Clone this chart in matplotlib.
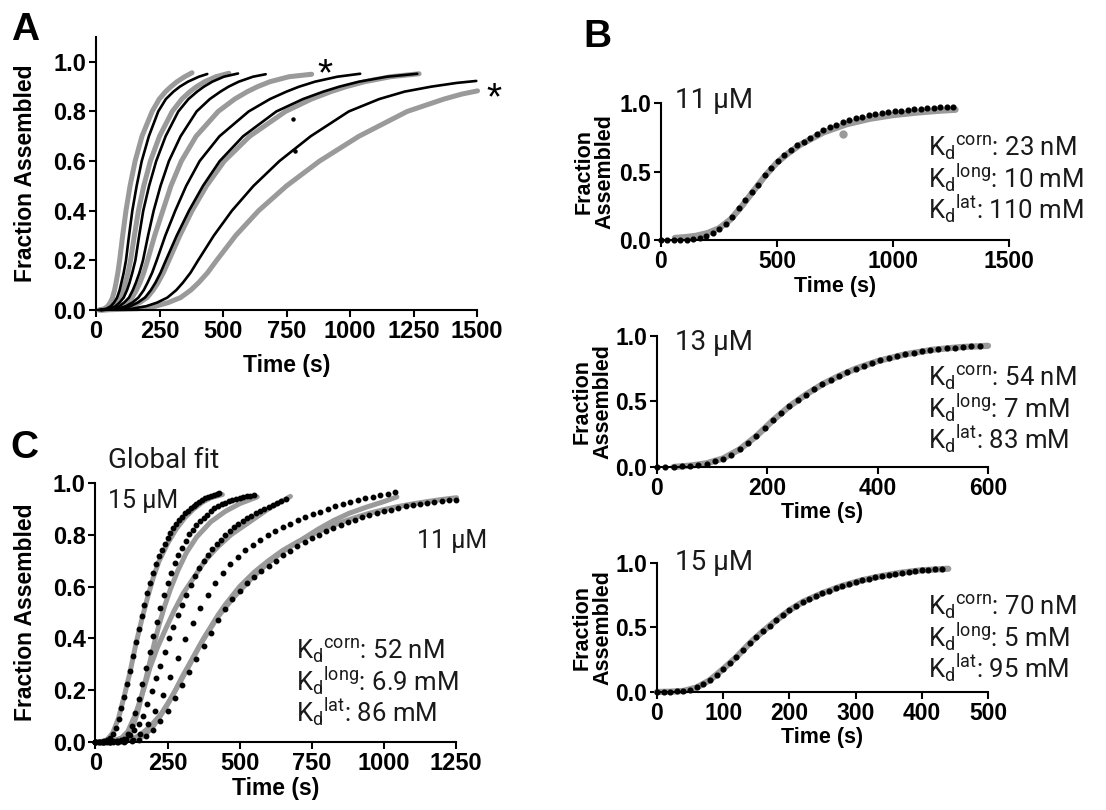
import matplotlib.pyplot as plt
import numpy as np

GRAY = "#9a9a9a"
BOLD = ["Liberation Sans", "DejaVu Sans"]
LIGHT = ["Roboto", "DejaVu Sans"]

plt.rcParams["font.family"] = BOLD
plt.rcParams["font.weight"] = "bold"
plt.rcParams["axes.labelweight"] = "bold"

# ---------------- panel A: traces (time s, fraction assembled) ----------------
a_g1_t = [10, 33, 46, 56, 65, 73, 79, 86, 93, 105, 118, 134, 154, 181, 221, 249, 274, 295, 319, 349, 378]
a_g1_f = [0, .005, .015, .03, .05, .08, .11, .15, .2, .3, .4, .5, .6, .7, .8, .85, .88, .9, .92, .94, .956]
a_g2_t = [15, 48, 67, 82, 95, 107, 116, 126, 136, 151, 167, 188, 214, 250, 300, 338, 370, 396, 428, 472, 523]
a_g2_f = [0, .005, .015, .03, .05, .08, .11, .15, .2, .3, .4, .5, .6, .7, .8, .85, .88, .9, .92, .94, .954]
a_g3_t = [20, 71, 99, 122, 142, 159, 173, 188, 203, 231, 263, 295, 336, 394, 481, 546, 596, 636, 685, 760, 849]
a_g3_f = [0, .005, .015, .03, .05, .08, .11, .15, .2, .3, .4, .5, .6, .7, .8, .85, .88, .9, .92, .94, .95]
a_g4_t = [20, 100, 141, 172, 201, 225, 244, 265, 287, 330, 378, 435, 505, 605, 746, 848, 925, 985, 1058, 1160, 1272]
a_g4_f = [0, .005, .015, .03, .05, .08, .11, .15, .2, .3, .4, .5, .6, .7, .8, .85, .88, .9, .92, .94, .952]
a_g5_t = [25, 166, 233, 285, 333, 373, 404, 439, 475, 550, 640, 750, 880, 1035, 1225, 1370, 1440, 1502]
a_g5_f = [0, .005, .015, .03, .05, .08, .11, .15, .2, .3, .4, .5, .6, .7, .8, .85, .87, .883]

a_k1_t = [10, 41, 58, 71, 83, 93, 100, 109, 118, 130, 143, 160, 180, 208, 245, 275, 305, 330, 362, 405, 438]
a_k1_f = [0, .005, .015, .03, .05, .08, .11, .15, .2, .3, .4, .5, .6, .7, .8, .85, .88, .9, .92, .94, .951]
a_k2_t = [15, 54, 76, 93, 109, 122, 132, 143, 155, 170, 186, 209, 237, 274, 324, 364, 398, 425, 458, 503, 559]
a_k2_f = [0, .005, .015, .03, .05, .08, .11, .15, .2, .3, .4, .5, .6, .7, .8, .85, .88, .9, .92, .94, .953]
a_k3_t = [15, 65, 91, 111, 130, 145, 157, 171, 185, 205, 227, 254, 287, 333, 396, 448, 490, 522, 562, 618, 668]
a_k3_f = [0, .005, .015, .03, .05, .08, .11, .15, .2, .3, .4, .5, .6, .7, .8, .85, .88, .9, .92, .94, .95]
a_k4_t = [20, 84, 117, 143, 167, 188, 203, 221, 239, 273, 312, 355, 408, 486, 601, 685, 750, 800, 862, 950, 1040]
a_k4_f = [0, .005, .015, .03, .05, .08, .11, .15, .2, .3, .4, .5, .6, .7, .8, .85, .88, .9, .92, .94, .952]
a_k5_t = [20, 96, 135, 165, 193, 216, 234, 254, 275, 318, 366, 421, 487, 579, 710, 815, 895, 958, 1035, 1145, 1265]
a_k5_f = [0, .005, .015, .03, .05, .08, .11, .15, .2, .3, .4, .5, .6, .7, .8, .85, .88, .9, .92, .94, .952]
a_k6_t = [20, 141, 197, 241, 281, 316, 342, 372, 402, 464, 535, 620, 722, 845, 995, 1115, 1215, 1320, 1420, 1497]
a_k6_f = [0, .005, .015, .03, .05, .08, .11, .15, .2, .3, .4, .5, .6, .7, .8, .85, .88, .9, .915, .923]

a_stray_t = [775, 785]
a_stray_f = [0.77, 0.64]
a_star_t = [903, 1565]
a_star_f = [0.995, 0.90]

# ---------------- panel B: single-concentration data (gray) and fits (dots) ----------------
b11_data_t = [60, 100, 150, 200, 250, 300, 350, 400, 450, 500, 550, 600, 700, 800, 900, 1000, 1100, 1200, 1270]
b11_data_f = [.015, .02, .03, .05, .085, .15, .25, .36, .47, .565, .635, .695, .785, .845, .885, .912, .93, .944, .951]
b11_outlier = (786, 0.776)
b11_fit_step = 28
b11_fit_f = [0, 0, 0, .002, .003, .006, .015, .03, .052, .08, .117, .17, .23, .29, .35,
             .405, .472, .528, .577, .619, .654, .69, .719, .745, .771, .8, .822, .842, .86, .875,
             .888, .9, .91, .919, .927, .934, .94, .945, .95, .954, .958, .962, .965, .968, .971, .974]

b13_data_t = [30, 60, 90, 120, 150, 180, 210, 240, 270, 300, 330, 360, 400, 450, 500, 550, 600]
b13_data_f = [0, .01, .028, .065, .135, .235, .355, .463, .553, .632, .695, .75, .808, .86, .895, .915, .925]
b13_fit_step = 15
b13_fit_f = [0, 0, .002, .004, .008, .015, .026, .042, .062, .093, .135, .183, .235, .295, .355,
             .41, .463, .51, .553, .594, .632, .665, .695, .724, .75, .773, .795, .814, .831, .846,
             .86, .872, .883, .892, .9, .907, .912, .916, .92, .923]

b15_data_t = [0, 20, 40, 60, 80, 100, 120, 140, 160, 180, 200, 220, 250, 280, 310, 340, 370, 400, 440]
b15_data_f = [0, .002, .008, .035, .092, .178, .27, .377, .47, .555, .633, .697, .766, .822, .866, .899, .925, .943, .955]
b15_fit_step = 10
b15_fit_f = [0, 0, .002, .004, .008, .018, .036, .06, .093, .132, .178, .222, .27, .325, .377,
             .425, .47, .513, .555, .595, .633, .668, .697, .722, .745, .766, .786, .805, .822, .838,
             .852, .866, .879, .89, .899, .908, .917, .925, .932, .938, .943, .948, .952, .956]

b_kd = {
    11: ("23 nM", "10 mM", "110 mM"),
    13: ("54 nM", "7 mM", "83 mM"),
    15: ("70 nM", "5 mM", "95 mM"),
}

# ---------------- panel C: global fit ----------------
c14_data_t = [40, 80, 100, 115, 130, 145, 160, 175, 190, 205, 220, 240, 260, 285, 315, 350, 400, 450, 500, 561]
c14_data_f = [.003, .006, .01, .025, .06, .11, .175, .245, .315, .385, .45, .525, .59, .66, .73, .79, .85, .89, .92, .946]
c13_data_t = [60, 90, 112, 140, 169, 190, 215, 245, 273, 305, 342, 380, 423, 470, 526, 600, 676]
c13_data_f = [.005, .015, .04, .11, .21, .29, .365, .44, .507, .575, .636, .7, .752, .8, .843, .9, .948]
c12_data_t = [60, 100, 130, 158, 190, 227, 260, 296, 330, 365, 423, 480, 540, 596, 650, 711, 770, 826, 880, 941, 1000, 1045]
c12_data_f = [0, .005, .012, .03, .06, .107, .165, .236, .305, .378, .481, .559, .63, .688, .735, .778, .82, .855, .883, .907, .928, .946]
c11_data_t = [100, 150, 175, 200, 225, 250, 275, 300, 325, 350, 375, 400, 425, 450, 500, 550, 600, 650,
              700, 750, 800, 850, 900, 950, 1000, 1050, 1100, 1150, 1200, 1252]
c11_data_f = [.003, .012, .03, .06, .1, .145, .195, .25, .3, .35, .4, .445, .49, .53, .6, .655, .7, .74,
              .772, .8, .825, .847, .866, .883, .897, .909, .919, .928, .936, .943]

c15_fit_step = 10
c15_fit_f = [0, 0, 0, .002, .006, .014, .03, .055, .09, .13, .175, .225, .275, .33, .385,
             .435, .485, .53, .575, .615, .652, .686, .716, .742, .766, .788, .808, .826, .842, .857,
             .87, .882, .893, .903, .912, .92, .927, .934, .94, .945, .95, .954, .958, .961]
c14_fit_step = 12.5
c14_fit_f = [0, 0, 0, 0, .001, .002, .003, .005, .012, .031, .062, .11, .165, .224, .286,
             .346, .409, .463, .516, .566, .612, .651, .69, .721, .749, .777, .803, .82, .838, .854,
             .866, .878, .89, .902, .91, .918, .924, .93, .935, .939, .942, .945, .948, .951, .953]
c13_fit_step = 15
c13_fit_f = [0, 0, 0, 0, .001, .003, .007, .013, .025, .045, .07, .1, .145, .195, .245,
             .295, .348, .4, .445, .49, .53, .568, .605, .64, .67, .697, .721, .743, .763, .781,
             .798, .814, .828, .841, .853, .864, .874, .883, .892, .9, .908, .916, .923, .93, .937]
c12_fit_step = 26
c12_fit_f = [0, 0, 0, .001, .003, .008, .03, .07, .12, .18, .25, .325, .398, .46, .518,
             .567, .612, .652, .686, .715, .74, .762, .781, .798, .814, .829, .843, .856, .868, .879,
             .889, .898, .91, .918, .926, .933, .94, .946, .952, .958, .964]
c11_fit_step = 25
c11_fit_f = [0, 0, 0, 0, .001, .003, .008, .022, .048, .08, .12, .168, .22, .272, .322,
             .372, .422, .47, .512, .55, .584, .613, .638, .66, .681, .7, .72, .738, .755, .771,
             .786, .8, .813, .825, .837, .848, .858, .867, .876, .884, .891, .897, .903, .909, .914,
             .919, .923, .927, .93, .933, .936]

c_kd = ("52 nM", "6.9 mM", "86 mM")

KD_NAMES = ("corn", "long", "lat")


def fit_times(step, values):
    return step * np.arange(len(values))


def style(ax, xmax, xticks, ymax, yticks, size=17):
    for side in ("top", "right"):
        ax.spines[side].set_visible(False)
    for side in ("left", "bottom"):
        ax.spines[side].set_linewidth(1.5)
    ax.set_xlim(0, xmax)
    ax.set_ylim(0, ymax)
    ax.set_xticks(xticks)
    ax.set_yticks(yticks)
    ax.set_yticklabels([f"{v:.1f}" for v in yticks])
    ax.tick_params(direction="out", length=5, width=1.5, pad=2, labelsize=size)
    ax.patch.set_alpha(0)


def ftext(x, y, s, size, **kw):
    # x, y in figure pixels from the top-left corner, y is the baseline
    fig.text(x / 1106, 1 - y / 810, s, fontsize=size, va="baseline",
             family=LIGHT, weight="normal", color="#1a1a1a", **kw)


def kd_block(x, ys, values, size=18.5):
    for name, val, y in zip(KD_NAMES, values, ys):
        ftext(x, y, r"$\mathregular{K_d{}^{%s}}$: %s" % (name, val), size)


fig = plt.figure(figsize=(11.06, 8.10), dpi=100)

# ---- A ----
ax = fig.add_axes([0.0868, 0.6173, 0.3445, 0.3370])
for t, f in [(a_g1_t, a_g1_f), (a_g2_t, a_g2_f), (a_g3_t, a_g3_f), (a_g4_t, a_g4_f), (a_g5_t, a_g5_f)]:
    ax.plot(t, f, color=GRAY, lw=3.6, solid_capstyle="round", solid_joinstyle="round", clip_on=False)
for t, f in [(a_k1_t, a_k1_f), (a_k2_t, a_k2_f), (a_k3_t, a_k3_f), (a_k4_t, a_k4_f),
             (a_k5_t, a_k5_f), (a_k6_t, a_k6_f)]:
    ax.plot(t, f, color="black", lw=1.9, solid_capstyle="round", solid_joinstyle="round", clip_on=False)
ax.plot(a_stray_t, a_stray_f, "o", color="black", ms=2.2)
for t, f in zip(a_star_t, a_star_f):
    ax.annotate("*", xy=(t, f), xytext=(0, -16), textcoords="offset points",
                ha="center", va="baseline", fontsize=28, fontweight="normal",
                annotation_clip=False)
style(ax, 1500, [0, 250, 500, 750, 1000, 1250, 1500], 1.1, [0, .2, .4, .6, .8, 1.0])
ax.set_xlabel("Time (s)", fontsize=16.5, labelpad=8)
ax.set_ylabel("Fraction Assembled", fontsize=16.5)
ax.yaxis.set_label_coords(-0.155, 0.5)

# ---- B ----
b_panels = [
    ([0.5976, 0.7037, 0.3146, 0.1691], 1500, [0, 500, 1000, 1500],
     b11_data_t, b11_data_f, b11_fit_step, b11_fit_f, "11 µM", 108, (157, 188, 219), b_kd[11]),
    ([0.5940, 0.4235, 0.2993, 0.1617], 600, [0, 200, 400, 600],
     b13_data_t, b13_data_f, b13_fit_step, b13_fit_f, "13 µM", 350, (387, 418, 449), b_kd[13]),
    ([0.5940, 0.1457, 0.2993, 0.1593], 500, [0, 100, 200, 300, 400, 500],
     b15_data_t, b15_data_f, b15_fit_step, b15_fit_f, "15 µM", 570, (616, 647, 678), b_kd[15]),
]
for rect, xmax, xt, dt, df, step, ff, conc, conc_y, kd_y, kd in b_panels:
    ax = fig.add_axes(rect)
    ax.plot(dt, df, color=GRAY, lw=4.5, solid_capstyle="round", clip_on=False)
    ax.plot(fit_times(step, ff), ff, "o", color="black", ms=3.4, clip_on=False)
    style(ax, xmax, xt, 1.0, [0, .5, 1.0], size=16.5)
    ax.set_xlabel("Time (s)", fontsize=15.5, labelpad=2)
    ax.set_ylabel("Fraction\nAssembled", fontsize=15.5, linespacing=1.0)
    ax.yaxis.set_label_coords(-0.13, 0.5)
    ftext(675, conc_y, conc, 20)
    kd_block(928, kd_y, kd)
ax_b11 = fig.axes[1]
ax_b11.plot(*b11_outlier, "o", color=GRAY, ms=5)

# ---- C ----
ax = fig.add_axes([0.0863, 0.0840, 0.3260, 0.3198])
for t, f in [(b15_data_t, b15_data_f), (c14_data_t, c14_data_f), (c13_data_t, c13_data_f),
             (c12_data_t, c12_data_f), (c11_data_t, c11_data_f)]:
    ax.plot(t, f, color=GRAY, lw=3.6, solid_capstyle="round", solid_joinstyle="round", clip_on=False)
for step, ff in [(c15_fit_step, c15_fit_f), (c14_fit_step, c14_fit_f), (c13_fit_step, c13_fit_f),
                 (c12_fit_step, c12_fit_f), (c11_fit_step, c11_fit_f)]:
    ax.plot(fit_times(step, ff), ff, "o", color="black", ms=3.2, clip_on=False)
style(ax, 1250, [0, 250, 500, 750, 1000, 1250], 1.0, [0, .2, .4, .6, .8, 1.0])
ax.set_xlabel("Time (s)", fontsize=16.5, labelpad=2)
ax.set_ylabel("Fraction Assembled", fontsize=16.5)
ax.yaxis.set_label_coords(-0.162, 0.5)
ftext(108, 468, "Global fit", 20)
ftext(108, 508, "15 µM", 18)
ftext(417, 548, "11 µM", 18)
kd_block(296, (660, 691, 722), c_kd)

# panel letters
for letter, x, y in [("A", 11, 40), ("B", 583, 47), ("C", 10, 458)]:
    fig.text(x / 1106, 1 - y / 810, letter, fontsize=28, weight="bold", va="baseline")

fig.savefig("out.png", dpi=100)
